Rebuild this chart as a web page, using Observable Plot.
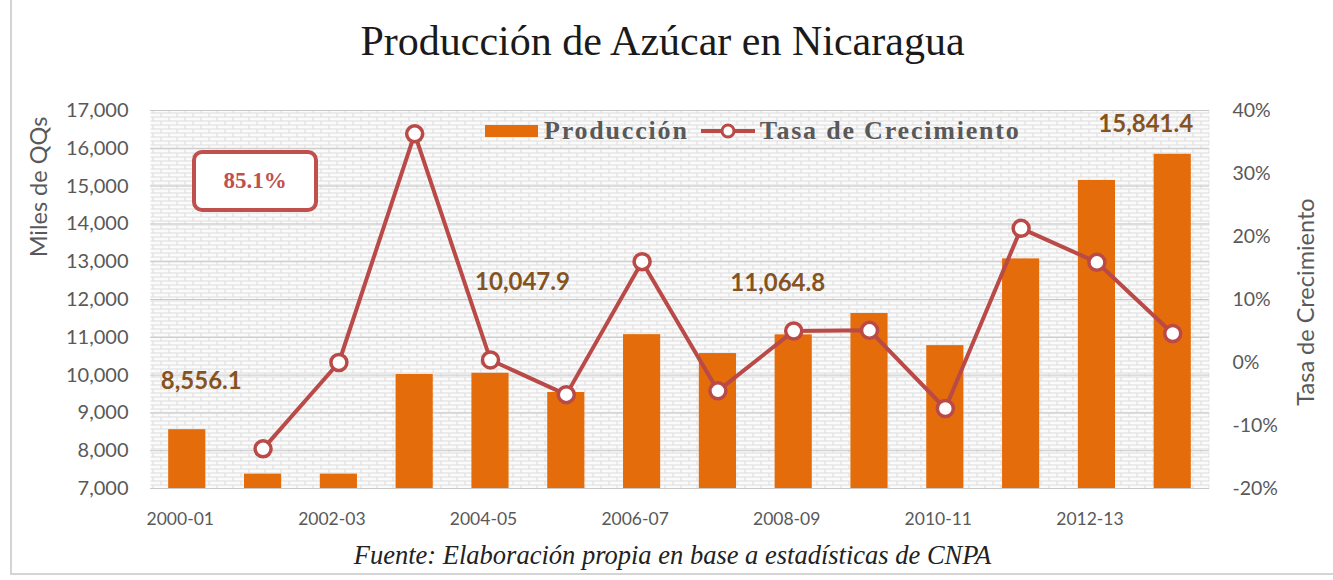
<!DOCTYPE html>
<html>
<head>
<meta charset="utf-8">
<script src="https://cdn.jsdelivr.net/npm/d3@7"></script>
<script src="https://cdn.jsdelivr.net/npm/@observablehq/plot@0.6"></script>
<style>
  html, body { margin: 0; padding: 0; background: #fff; }
  #wrap { position: relative; width: 1333px; height: 580px; overflow: hidden; }
  #frame { position: absolute; left: 10px; top: -2px; width: 1340px; height: 577px; border-left: 2px solid #d4d4d4; border-bottom: 2px solid #d4d4d4; box-sizing: border-box; }
  #chart { position: absolute; left: 0; top: 0; }
  .title { position: absolute; left: 0; width: 1325px; top: 17px; text-align: center; font-family: "Liberation Serif", serif; font-size: 42px; color: #1a1a1a; }
  .caption { position: absolute; left: 0; width: 1345px; top: 540px; text-align: center; font-family: "Liberation Serif", serif; font-style: italic; font-size: 26.5px; color: #222; }
  .ylab { position: absolute; font-family: Lato, sans-serif; font-size: 23.5px; color: #595959; white-space: nowrap; transform: translate(-50%, -50%) rotate(-90deg); }
  .legend { position: absolute; left: 485px; top: 116px; display: flex; align-items: center; font-family: "Liberation Serif", serif; font-size: 26px; color: #595959; letter-spacing: 1.8px; font-weight: bold; }
  .legend svg { display: block; }
  .box { position: absolute; left: 192px; top: 150px; width: 118px; height: 54px; border: 4px solid #c0504d; border-radius: 10px; background: #fff; box-sizing: content-box; display: flex; align-items: center; justify-content: center; font-family: "Liberation Serif", serif; font-weight: bold; font-size: 23px; color: #c0504d; }
</style>
</head>
<body>
<div id="wrap">
  <div id="frame"></div>
  <div id="chart"></div>
  <div class="title">Producción de Azúcar en Nicaragua</div>
  <div class="ylab" style="left:38px; top:187px;">Miles de QQs</div>
  <div class="ylab" style="left:1305px; top:302px;">Tasa de Crecimiento</div>
  <div class="legend">
    <svg width="54" height="14"><rect x="0" y="1" width="53" height="12" fill="#e46c0a"></rect></svg>
    <span style="margin-left:5px;">Producción</span>
    <svg width="56" height="20" style="margin-left:12px;"><line x1="0" y1="10" x2="54" y2="10" stroke="#b94a48" stroke-width="4"></line><circle cx="27" cy="10" r="6" fill="#fff" stroke="#b94a48" stroke-width="3"></circle></svg>
    <span style="margin-left:3px;">Tasa de Crecimiento</span>
  </div>
  <div class="box">85.1%</div>
  <div class="caption">Fuente: Elaboración propia en base a estadísticas de CNPA</div>
</div>
<script>
// ---- data ----
const years = ["2000-01","2001-02","2002-03","2003-04","2004-05","2005-06","2006-07","2007-08","2008-09","2009-10","2010-11","2011-12","2012-13","2013-14"];
const produccion = [8556.1, 7380, 7380, 10016, 10047.9, 9540, 11070, 10570, 11064.8, 11630, 10780, 13075, 15150, 15841.4];
const tasa = [null, -13.7, 0.0, 36.3, 0.4, -5.1, 16.0, -4.5, 5.0, 5.1, -7.3, 21.3, 15.9, 4.6];
const leftTicks = [7000, 8000, 9000, 10000, 11000, 12000, 13000, 14000, 15000, 16000, 17000];
const rightTicks = [-20, -10, 0, 10, 20, 30, 40];
const xTickLabels = ["2000-01","2002-03","2004-05","2006-07","2008-09","2010-11","2012-13"];
const labelYears = ["2000-01","2004-05","2008-09","2013-14"];
const labelValues = [8556.1, 10047.9, 11064.8, 15841.4];
const labelOffsets = [[14,-48],[32,-91],[-16,-52],[-27,-30]];

// secondary axis mapping (tasa % -> production axis units)
const yDom = [7000, 17000], tDom = [-20, 40];
const toY = t => yDom[0] + (t - tDom[0]) / (tDom[1] - tDom[0]) * (yDom[1] - yDom[0]);
const fromY = y => tDom[0] + (y - yDom[0]) / (yDom[1] - yDom[0]) * (tDom[1] - tDom[0]);

const bars = years.map((y, i) => ({year: y, value: produccion[i]}));
const growth = years.map((y, i) => ({year: y, t: tasa[i]})).filter(d => d.t !== null);
const labels = labelYears.map((y, i) => ({year: y, value: labelValues[i], text: d3.format(",.1f")(labelValues[i])}));

const fmt = d3.format(",");

const plot = Plot.plot({
  width: 1333,
  height: 580,
  marginLeft: 150,
  marginRight: 124,
  marginTop: 110,
  marginBottom: 92,
  style: {fontFamily: "Lato, sans-serif", fontSize: "17px", color: "#595959", background: "transparent"},
  x: {domain: years, paddingInner: 0.51, paddingOuter: 0.24, round: false, label: null},
  y: {domain: yDom, label: null},
  marks: [
    Plot.frame({fill: "url(#brick)", stroke: null}),
    Plot.gridY(leftTicks, {stroke: "#c8c8c8", strokeOpacity: 1, strokeWidth: 1}),
    Plot.axisY({ticks: leftTicks, tickFormat: fmt, tickSize: 0, tickPadding: 22, label: null, fontSize: 20}),
    Plot.axisY({anchor: "right", ticks: rightTicks.map(toY), tickFormat: v => Math.round(fromY(v)) + "%", tickSize: 0, tickPadding: 23, textAnchor: "start", label: null, fontSize: 19.5}),
    Plot.axisX({ticks: xTickLabels, tickSize: 0, tickPadding: 24, dx: -7, label: null, fontSize: 17.5}),
    Plot.barY(bars, {x: "year", y1: yDom[0], y2: "value", fill: "#e46c0a"}),
    Plot.line(growth, {x: "year", y: d => toY(d.t), stroke: "#b94a48", strokeWidth: 4}),
    Plot.dot(growth, {x: "year", y: d => toY(d.t), r: 8, fill: "#fff", stroke: "#b94a48", strokeWidth: 3.5}),
    ...labels.map((d, i) => Plot.text([d], {x: "year", y: "value", text: "text", dx: labelOffsets[i][0], dy: labelOffsets[i][1], fill: "#85531f", fontWeight: "bold", fontSize: 24, fontFamily: "Lato, sans-serif"}))
  ]
});

// brick background pattern
const ns = "http://www.w3.org/2000/svg";
const defs = document.createElementNS(ns, "defs");
defs.innerHTML = `<pattern id="brick" patternUnits="userSpaceOnUse" width="16" height="8">
  <rect width="16" height="8" fill="#fbfbfb"/>
  <path d="M0 0.5H16M0 4.5H16M0.5 0.5V4.5M8.5 4.5V8" stroke="#dcdcdc" stroke-width="1" fill="none"/>
</pattern>`;
plot.insertBefore(defs, plot.firstChild);
document.getElementById("chart").appendChild(plot);
</script>
</body>
</html>
